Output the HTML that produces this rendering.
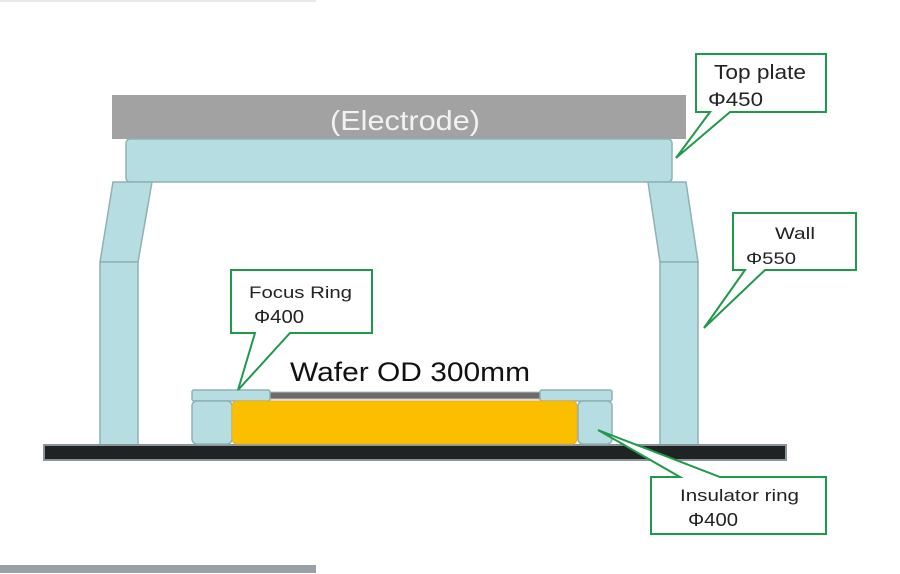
<!DOCTYPE html>
<html><head><meta charset="utf-8"><style>
html,body{margin:0;padding:0;background:#fff;}
svg{display:block;}
text{font-family:"Liberation Sans",sans-serif;}
</style></head><body>
<svg width="900" height="574" viewBox="0 0 900 574">
<rect x="0" y="0" width="316" height="2" fill="#e8e8e8"/>
<rect x="112" y="95" width="574" height="44" fill="#a2a2a2"/>
<text x="330" y="130" font-size="28" fill="#f2f2f2" textLength="150" lengthAdjust="spacingAndGlyphs">(Electrode)</text>
<rect x="126" y="139" width="546" height="43" rx="4" fill="#b6dee2" stroke="#8fb0b4" stroke-width="1.5"/>
<polygon points="113,182 152,182 138,262 100,262" fill="#b6dee2" stroke="#8fb0b4" stroke-width="1.5"/>
<rect x="100" y="262" width="38" height="183" fill="#b6dee2" stroke="#8fb0b4" stroke-width="1.5"/>
<polygon points="648,182 686,182 698,262 660,262" fill="#b6dee2" stroke="#8fb0b4" stroke-width="1.5"/>
<rect x="660" y="262" width="38" height="183" fill="#b6dee2" stroke="#8fb0b4" stroke-width="1.5"/>
<rect x="44" y="445" width="742" height="15" fill="#1f2324" stroke="#8a9597" stroke-width="2"/>
<rect x="270" y="392" width="270" height="7" fill="#6b6b6b" stroke="#bbb" stroke-width="1"/>
<rect x="192" y="390" width="78" height="11" rx="2" fill="#b6dee2" stroke="#8fb0b4" stroke-width="1.5"/>
<rect x="540" y="390" width="72" height="11" rx="2" fill="#b6dee2" stroke="#8fb0b4" stroke-width="1.5"/>
<rect x="192" y="401" width="40" height="43" rx="5" fill="#b6dee2" stroke="#8fb0b4" stroke-width="1.5"/>
<rect x="578" y="401" width="34" height="43" rx="5" fill="#b6dee2" stroke="#8fb0b4" stroke-width="1.5"/>
<rect x="232" y="401" width="345" height="43" rx="5" fill="#fbbf00" stroke="#e0b030" stroke-width="1"/>
<text x="290" y="381" font-size="27" fill="#111" textLength="240" lengthAdjust="spacingAndGlyphs">Wafer OD 300mm</text>
<g fill="#fff" stroke="#1e9a4a" stroke-width="2">
<polygon points="696,54 826,54 826,112 730,112 676,158 710,112 696,112"/>
<polygon points="733,213 856,213 856,270 765,270 704,328 745,270 733,270"/>
<polygon points="231,270 372,270 372,333 290,333 238,390 255,333 231,333"/>
<polygon points="651,477 680,477 598,430 720,477 826,477 826,534 651,534"/>
</g>
<g fill="#222" lengthAdjust="spacingAndGlyphs">
<text x="714" y="79" font-size="20" textLength="92" lengthAdjust="spacingAndGlyphs">Top plate</text>
<text x="708" y="106" font-size="19" textLength="55" lengthAdjust="spacingAndGlyphs">Φ450</text>
<text x="775" y="239" font-size="17" textLength="40" lengthAdjust="spacingAndGlyphs">Wall</text>
<text x="746" y="264" font-size="17" textLength="50" lengthAdjust="spacingAndGlyphs">Φ550</text>
<text x="249" y="298" font-size="17" textLength="103" lengthAdjust="spacingAndGlyphs">Focus Ring</text>
<text x="254" y="323" font-size="18" textLength="50" lengthAdjust="spacingAndGlyphs">Φ400</text>
<text x="680" y="501" font-size="17" textLength="119" lengthAdjust="spacingAndGlyphs">Insulator ring</text>
<text x="688" y="526" font-size="18" textLength="50" lengthAdjust="spacingAndGlyphs">Φ400</text>
</g>
<rect x="0" y="565" width="316" height="8" fill="#9aa0a6"/>
</svg>
</body></html>
